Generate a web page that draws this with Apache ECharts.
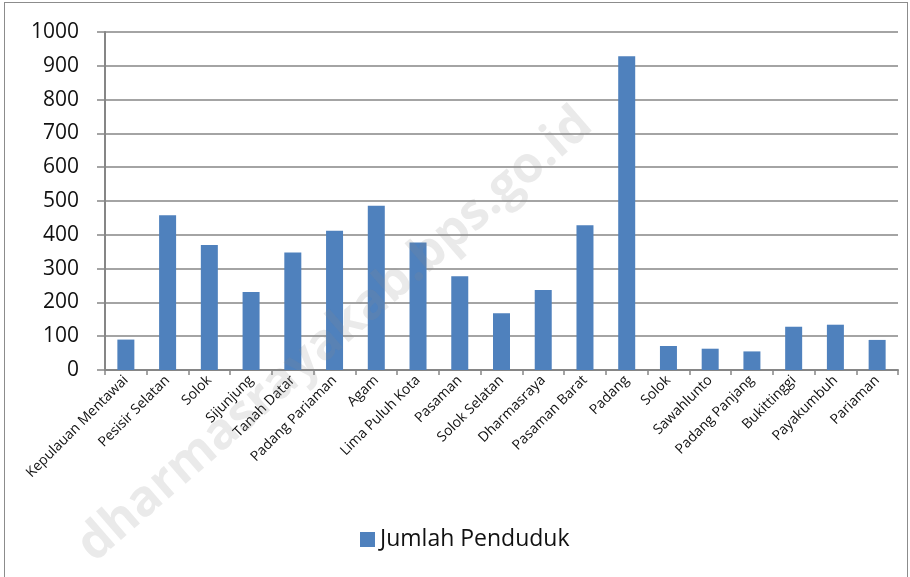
<!DOCTYPE html>
<html>
<head>
<meta charset="utf-8">
<script src="https://cdn.jsdelivr.net/npm/echarts@6/dist/echarts.min.js"></script>
<style>
  html, body { margin: 0; padding: 0; background: #fff; }
  #frame { position: absolute; left: 4px; top: 2px; width: 902px; height: 590px; border: 1px solid #8c8c8c; }
  #main { position: absolute; left: 0; top: 0; width: 910px; height: 577px; }
</style>
</head>
<body>
<div id="frame"></div>
<div id="main"></div>
<script>
// kabupaten / kota
var categories = [
  'Kepulauan Mentawai', 'Pesisir Selatan', 'Solok', 'Sijunjung', 'Tanah Datar',
  'Padang Pariaman', 'Agam', 'Lima Puluh Kota', 'Pasaman', 'Solok Selatan',
  'Dharmasraya', 'Pasaman Barat', 'Padang', 'Solok', 'Sawahlunto',
  'Padang Panjang', 'Bukittinggi', 'Payakumbuh', 'Pariaman'
];
var jumlahPenduduk = [90, 458, 370, 231, 348, 412, 486, 377, 277, 168, 237, 428, 928, 71, 63, 55, 128, 134, 89];
var seriesName = 'Jumlah Penduduk';
var yTicks = { min: 0, max: 1000, interval: 100 };

var chart = echarts.init(document.getElementById('main'));
var option = {
  animation: false,
  color: ['#4f81bd'],
  textStyle: { fontFamily: 'Open Sans' },
  grid: { left: 105, right: 12, top: 32, bottom: 207 },
  legend: {
    bottom: 21,
    left: 355,
    itemWidth: 15,
    itemHeight: 15,
    itemGap: 6,
    icon: 'rect',
    textStyle: { fontSize: 23, color: '#111', fontFamily: 'Open Sans' },
    data: [seriesName]
  },
  xAxis: {
    type: 'category',
    data: categories,
    axisLine: { lineStyle: { color: '#868686', width: 2 } },
    axisTick: { show: true, length: 5, lineStyle: { color: '#868686', width: 1.5 } },
    axisLabel: { rotate: 45, interval: 0, fontSize: 14, color: '#111', margin: 8 }
  },
  yAxis: {
    type: 'value',
    min: yTicks.min,
    max: yTicks.max,
    interval: yTicks.interval,
    axisLine: { show: true, lineStyle: { color: '#868686', width: 2 } },
    axisTick: { show: true, length: 8, lineStyle: { color: '#868686', width: 1.5 } },
    axisLabel: { fontSize: 21, color: '#111', margin: 26, formatter: function (v) { return String(v); } },
    splitLine: { lineStyle: { color: '#868686', width: 1.5 } }
  },
  series: [{
    name: seriesName,
    type: 'bar',
    barWidth: 17,
    data: jumlahPenduduk
  }],
  graphic: [{
    type: 'text',
    x: 335,
    y: 335,
    rotation: 41 * Math.PI / 180,
    z: 100,
    silent: true,
    style: {
      text: 'dharmasrayakab.bps.go.id',
      fontSize: 50,
      fontWeight: 'bold',
      fontFamily: 'Open Sans',
      fill: 'rgba(140,140,140,0.18)',
      align: 'center',
      verticalAlign: 'middle'
    }
  }]
};
chart.setOption(option);
</script>
</body>
</html>
